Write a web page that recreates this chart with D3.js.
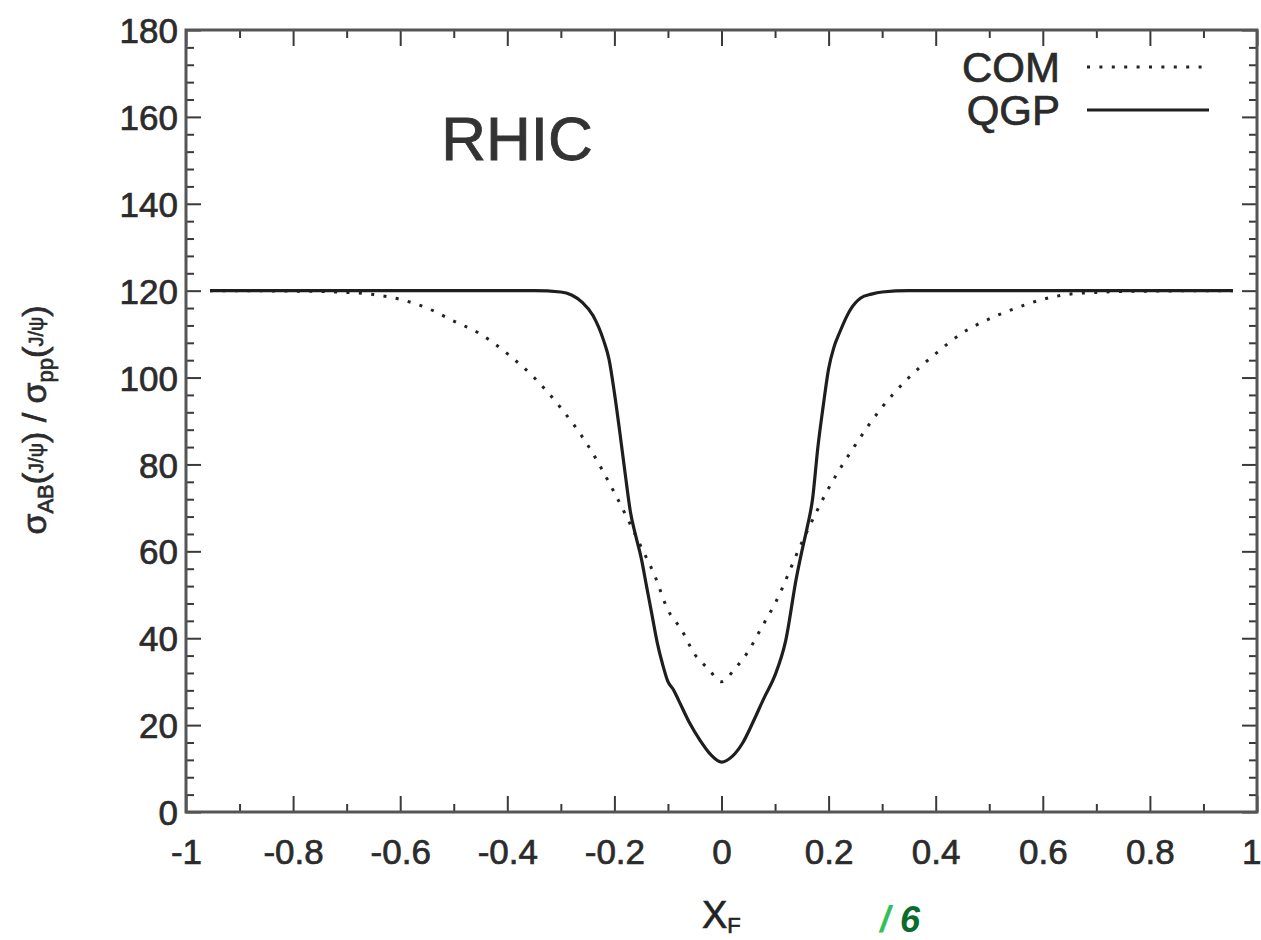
<!DOCTYPE html>
<html>
<head>
<meta charset="utf-8">
<script src="https://cdn.jsdelivr.net/npm/d3@7"></script>
<style>
  html, body { margin: 0; padding: 0; background: #fff; }
  svg { display: block; }
  text { font-family: "Liberation Sans", Arial, Helvetica, sans-serif; }
</style>
</head>
<body>
<svg id="chart" width="1261" height="940"></svg>
<script>
// ---- data ----
const qgpX = [-0.955, -0.5, -0.35, -0.3, -0.28, -0.26, -0.24, -0.22, -0.21, -0.2, -0.19, -0.18, -0.17, -0.16, -0.15, -0.14, -0.13, -0.12, -0.11, -0.1, -0.09, -0.08, -0.06, -0.04, -0.02, 0,
              0.02, 0.04, 0.06, 0.08, 0.1, 0.12, 0.14, 0.15, 0.16, 0.17, 0.18, 0.19, 0.2, 0.21, 0.22, 0.24, 0.26, 0.28, 0.3, 0.35, 0.5, 0.955];
const qgpY = [120, 120, 120, 119.7, 119.0, 117.3, 114.3, 108.5, 104.2, 96.5, 87.5, 78.0, 69.0, 63.5, 58.5, 52.0, 45.5, 39.0, 34.0, 30.0, 28.2, 25.7, 20.6, 16.5, 13.2, 11.5,
              12.8, 16.0, 21.0, 26.4, 31.5, 39.5, 54.0, 60.0, 65.5, 72.0, 84.0, 93.5, 102.0, 107.0, 110.2, 115.5, 118.3, 119.2, 119.7, 120, 120, 120];

const comX = [-0.955, -0.8, -0.7, -0.65, -0.6, -0.55, -0.5, -0.45, -0.4, -0.35, -0.3, -0.25, -0.2, -0.15, -0.125, -0.1, -0.075, -0.05, -0.025, 0,
              0.025, 0.05, 0.075, 0.1, 0.15, 0.2, 0.25, 0.3, 0.35, 0.4, 0.45, 0.5, 0.55, 0.6, 0.65, 0.7, 0.8, 0.955];
const comY = [120, 119.9, 119.6, 119.1, 118, 116, 113, 110, 105.5, 100, 93, 84.5, 73.5, 61, 54.5, 46.5, 42, 36.3, 33, 30,
              33, 37, 42.5, 48, 62, 74.5, 84.5, 93.2, 100, 105.5, 110.3, 113.5, 116, 118, 119.2, 119.6, 119.9, 120];

const xMajor = [-1, -0.8, -0.6, -0.4, -0.2, 0, 0.2, 0.4, 0.6, 0.8, 1];
const xLabels = ["-1", "-0.8", "-0.6", "-0.4", "-0.2", "0", "0.2", "0.4", "0.6", "0.8", "1"];
const yMajor = [0, 20, 40, 60, 80, 100, 120, 140, 160, 180];
const seriesNames = ["COM", "QGP"];

// ---- layout ----
const L = 186, R = 1257, T = 30, B = 812;
const svg = d3.select("#chart");
const x = d3.scaleLinear().domain([-1, 1]).range([L, R]);
const y = d3.scaleLinear().domain([0, 180]).range([B, T]);

const tickColor = "#3a3a3a";
const textColor = "#2b2b2b";
const heavy = sel => sel.attr("stroke", "#2b2b2b").attr("stroke-width", 0.7);

// minor ticks
const xMinor = d3.range(-10, 11).map(d => d / 10).filter(d => Math.abs((d * 10) % 2) > 0.5);
const yMinor = d3.range(0, 181, 4).filter(d => d % 20 !== 0);

const axG = svg.append("g");
// bottom axis
axG.append("g").attr("transform", `translate(0,${B})`)
  .call(d3.axisBottom(x).tickValues(xMajor).tickSize(-16).tickFormat((d, i) => xLabels[i]).tickPadding(40))
  .call(g => g.select(".domain").remove())
  .call(g => g.selectAll("line").attr("stroke", tickColor).attr("stroke-width", 2))
  .call(g => g.selectAll("text").attr("fill", textColor).attr("font-size", 35).attr("dy", "0.35em").call(heavy))
  .call(g => g.selectAll(".tick").filter(d => d === 1).select("text").attr("text-anchor", "end").attr("x", 4));
axG.append("g").attr("transform", `translate(0,${B})`)
  .call(d3.axisBottom(x).tickValues(xMinor).tickSize(-8).tickFormat(""))
  .call(g => g.select(".domain").remove())
  .call(g => g.selectAll("line").attr("stroke", tickColor).attr("stroke-width", 2));
// top axis mirror
axG.append("g").attr("transform", `translate(0,${T})`)
  .call(d3.axisTop(x).tickValues(xMajor).tickSize(-16).tickFormat(""))
  .call(g => g.select(".domain").remove())
  .call(g => g.selectAll("line").attr("stroke", tickColor).attr("stroke-width", 2));
axG.append("g").attr("transform", `translate(0,${T})`)
  .call(d3.axisTop(x).tickValues(xMinor).tickSize(-8).tickFormat(""))
  .call(g => g.select(".domain").remove())
  .call(g => g.selectAll("line").attr("stroke", tickColor).attr("stroke-width", 2));
// left axis
axG.append("g").attr("transform", `translate(${L},0)`)
  .call(d3.axisLeft(y).tickValues(yMajor).tickSize(-15).tickPadding(8))
  .call(g => g.select(".domain").remove())
  .call(g => g.selectAll("line").attr("stroke", tickColor).attr("stroke-width", 2))
  .call(g => g.selectAll("text").attr("fill", textColor).attr("font-size", 35).attr("dy", "0.36em").call(heavy));
axG.append("g").attr("transform", `translate(${L},0)`)
  .call(d3.axisLeft(y).tickValues(yMinor).tickSize(-8).tickFormat(""))
  .call(g => g.select(".domain").remove())
  .call(g => g.selectAll("line").attr("stroke", tickColor).attr("stroke-width", 2));
// right axis mirror
axG.append("g").attr("transform", `translate(${R},0)`)
  .call(d3.axisRight(y).tickValues(yMajor).tickSize(-15).tickFormat(""))
  .call(g => g.select(".domain").remove())
  .call(g => g.selectAll("line").attr("stroke", tickColor).attr("stroke-width", 2));
axG.append("g").attr("transform", `translate(${R},0)`)
  .call(d3.axisRight(y).tickValues(yMinor).tickSize(-8).tickFormat(""))
  .call(g => g.select(".domain").remove())
  .call(g => g.selectAll("line").attr("stroke", tickColor).attr("stroke-width", 2));

// frame
svg.append("rect").attr("x", L).attr("y", T).attr("width", R - L).attr("height", B - T)
  .attr("fill", "none").attr("stroke", "#555").attr("stroke-width", 3);

// ---- curves ----
const line = d3.line().x(d => x(d[0])).y(d => y(d[1])).curve(d3.curveMonotoneX);
const comData = comX.map((v, i) => [v, comY[i]]);
const qgpData = qgpX.map((v, i) => [v, qgpY[i]]);

svg.append("path").datum(comData).attr("d", line)
  .attr("fill", "none").attr("stroke", "#222").attr("stroke-width", 3)
  .attr("stroke-dasharray", "3 9.4");
svg.append("path").datum(qgpData).attr("d", line)
  .attr("fill", "none").attr("stroke", "#1e1e1e").attr("stroke-width", 3.2)
  .attr("stroke-linejoin", "round");

// ---- legend ----
const lg = svg.append("g");
lg.append("text").attr("x", 1060).attr("y", 67).attr("dy", "0.36em").attr("text-anchor", "end")
  .attr("font-size", 42).attr("fill", textColor).call(heavy).text(seriesNames[0]);
lg.append("line").attr("x1", 1087).attr("x2", 1202).attr("y1", 67).attr("y2", 67)
  .attr("stroke", "#222").attr("stroke-width", 3).attr("stroke-dasharray", "3 9.4");
lg.append("text").attr("x", 1060).attr("y", 110).attr("dy", "0.36em").attr("text-anchor", "end")
  .attr("font-size", 42).attr("fill", textColor).call(heavy).text(seriesNames[1]);
lg.append("line").attr("x1", 1087).attr("x2", 1209).attr("y1", 110).attr("y2", 110)
  .attr("stroke", "#1e1e1e").attr("stroke-width", 3.2);

// ---- title ----
svg.append("text").attr("x", 517).attr("y", 138).attr("dy", "0.36em").attr("text-anchor", "middle")
  .attr("font-size", 62).attr("fill", "#333").attr("stroke", "#333").attr("stroke-width", 0.9).text("RHIC");

// ---- x-axis label ----
const xl = svg.append("text").attr("x", 702).attr("y", 928).attr("font-size", 38).attr("fill", "#222").call(heavy);
xl.append("tspan").text("X");
xl.append("tspan").attr("font-size", 22).attr("dy", 5).text("F");

// green annotation
const gn = svg.append("text").attr("x", 880).attr("y", 932).attr("font-size", 36)
  .attr("font-style", "italic").attr("font-weight", "bold");
gn.append("tspan").attr("fill", "#2fc25b").text("/ ");
gn.append("tspan").attr("fill", "#0b6b2c").text("6");

// ---- y-axis label ----
const yl = svg.append("text").attr("transform", "translate(46,420) rotate(-90)")
  .attr("text-anchor", "middle").attr("font-size", 34).attr("fill", "#2b2b2b").call(heavy);
yl.append("tspan").text("σ");
yl.append("tspan").attr("font-size", 22).attr("dy", 7).text("AB");
yl.append("tspan").attr("dy", -7).text("(");
yl.append("tspan").attr("font-size", 20).attr("dy", -3).text("J/ψ");
yl.append("tspan").attr("dy", 3).text(") / σ");
yl.append("tspan").attr("font-size", 22).attr("dy", 7).text("pp");
yl.append("tspan").attr("dy", -7).text("(");
yl.append("tspan").attr("font-size", 20).attr("dy", -3).text("J/ψ");
yl.append("tspan").attr("dy", 3).text(")");
</script>
</body>
</html>
